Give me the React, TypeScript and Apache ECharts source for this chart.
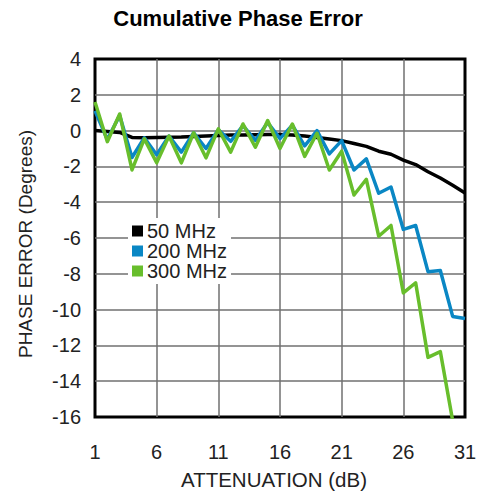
import React, { useEffect, useRef } from "react";
import * as echarts from "echarts";

const attenuation = Array.from({ length: 31 }, (_, i) => String(i + 1));

const mhz50 = [
  0, -0.05, -0.1, -0.38, -0.4, -0.38, -0.37, -0.36, -0.33, -0.3,
  -0.27, -0.25, -0.24, -0.23, -0.22, -0.22, -0.24, -0.3, -0.38, -0.47,
  -0.56, -0.72, -0.88, -1.15, -1.32, -1.65, -1.9, -2.3, -2.65, -3.05, -3.48,
];

const mhz200 = [
  1.1, -0.5, 0.85, -1.5, -0.4, -1.35, -0.3, -1.2, -0.12, -1.0,
  0.05, -0.6, 0.28, -0.55, 0.45, -0.45, 0.3, -0.85, 0.0, -1.3,
  -0.56, -2.2, -1.58, -3.5, -3.15, -5.52, -5.3, -7.88, -7.82, -10.38, -10.5,
];

const mhz300 = [
  1.6, -0.62, 0.93, -2.2, -0.46, -1.8, -0.3, -1.8, -0.12, -1.52,
  0.1, -1.2, 0.37, -0.93, 0.56, -1.0, 0.37, -1.44, -0.15, -2.2,
  -1.15, -3.6, -2.72, -5.9, -5.3, -9.07, -8.5, -12.67, -12.35, -16.2, -16.6,
];

const seriesNames = ["50 MHz", "200 MHz", "300 MHz"];
const seriesColors = ["#000000", "#0a87c4", "#68be2c"];

const FONT = "'Liberation Sans', Arial, Helvetica, sans-serif";

export default function App() {
  const ref = useRef<HTMLDivElement>(null);
  useEffect(() => {
    if (!ref.current) return;
    const chart = echarts.init(ref.current, undefined, { renderer: "svg" });
    const datasets = [mhz50, mhz200, mhz300];
    chart.setOption({
      animation: false,
      backgroundColor: "#fff",
      textStyle: { fontFamily: FONT },
      grid: {
        left: 95,
        right: 18,
        top: 59,
        bottom: 79,
        show: true,
        borderColor: "#000",
        borderWidth: 3,
        backgroundColor: "transparent",
      },
      legend: {
        data: seriesNames.map((n, i) => ({ name: n, itemStyle: { color: seriesColors[i] } })),
        orient: "vertical",
        left: 128,
        top: 218,
        icon: "rect",
        itemWidth: 11,
        itemHeight: 11,
        itemGap: 0,
        padding: [3, 4, 3, 4],
        backgroundColor: "#fff",
        textStyle: { fontSize: 20, color: "#222", fontFamily: FONT, lineHeight: 18.5, padding: [0, 0, 0, -1] },
      },
      xAxis: {
        type: "category",
        data: attenuation,
        boundaryGap: false,
        axisLine: { show: false },
        axisTick: { show: false },
        axisLabel: { interval: 4, fontSize: 20, color: "#222", margin: 25, fontFamily: FONT },
        splitLine: {
          show: true,
          interval: 4,
          showMinLine: false,
          showMaxLine: false,
          lineStyle: { color: "#707070", width: 1.5 },
        },
      },
      yAxis: {
        type: "value",
        min: -16,
        max: 4,
        interval: 2,
        axisLine: { show: false },
        axisTick: { show: false },
        axisLabel: { fontSize: 20, color: "#222", margin: 14, fontFamily: FONT },
        splitLine: {
          show: true,
          showMinLine: false,
          showMaxLine: false,
          lineStyle: { color: "#707070", width: 1.5 },
        },
      },
      series: datasets.map((d, i) => ({
        name: seriesNames[i],
        type: "line",
        data: d,
        symbol: "none",
        clip: true,
        color: seriesColors[i],
        lineStyle: { color: seriesColors[i], width: 3.5, join: "round" },
        z: 2 + i,
      })),
      graphic: [
        {
          type: "text",
          x: 238,
          y: 18,
          style: {
            text: "Cumulative Phase Error",
            font: `bold 22px ${FONT}`,
            fill: "#000",
            textAlign: "center",
            textVerticalAlign: "middle",
          },
        },
        {
          type: "text",
          x: 274,
          y: 479,
          style: {
            text: "ATTENUATION (dB)",
            font: `20.5px ${FONT}`,
            fill: "#222",
            textAlign: "center",
            textVerticalAlign: "middle",
          },
        },
        {
          type: "text",
          x: 25,
          y: 244,
          rotation: Math.PI / 2,
          style: {
            text: "PHASE ERROR (Degrees)",
            font: `19px ${FONT}`,
            fill: "#222",
            textAlign: "center",
            textVerticalAlign: "middle",
          },
        },
      ],
    });
    return () => chart.dispose();
  }, []);
  return <div ref={ref} style={{ width: 483, height: 496, position: "absolute", left: 0, top: 0 }} />;
}
